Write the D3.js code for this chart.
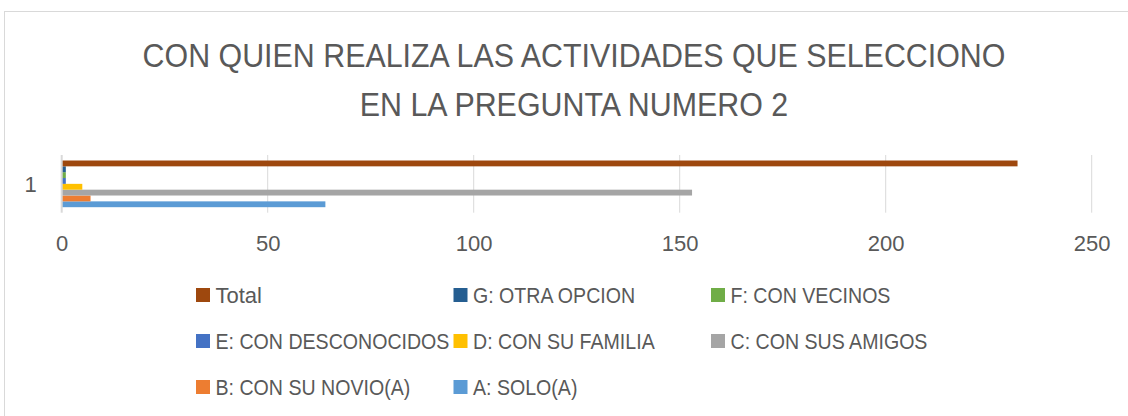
<!DOCTYPE html>
<html>
<head>
<meta charset="utf-8">
<script src="https://cdn.jsdelivr.net/npm/d3@7"></script>
<style>
  html, body { margin: 0; padding: 0; background: #ffffff; }
  svg { display: block; font-family: "Liberation Sans", Arial, sans-serif; }
</style>
</head>
<body>
<svg id="chart" width="1128" height="416"></svg>
<script>
// ---- data ----
const titleLines = ["CON QUIEN REALIZA LAS ACTIVIDADES QUE SELECCIONO", "EN LA PREGUNTA NUMERO 2"];
const categories = ["1"];
const seriesNames = ["A: SOLO(A)", "B: CON SU NOVIO(A)", "C: CON SUS AMIGOS", "D: CON SU FAMILIA",
                     "E: CON DESCONOCIDOS", "F: CON VECINOS", "G: OTRA OPCION", "Total"];
const seriesValues = [64, 7, 153, 5, 1, 1, 1, 232];
const seriesColors = ["#5B9BD5", "#ED7D31", "#A5A5A5", "#FFC000", "#4472C4", "#70AD47", "#255E91", "#9E480E"];
const xTicks = [0, 50, 100, 150, 200, 250];
const legendOrder = ["Total", "G: OTRA OPCION", "F: CON VECINOS", "E: CON DESCONOCIDOS",
                     "D: CON SU FAMILIA", "C: CON SUS AMIGOS", "B: CON SU NOVIO(A)", "A: SOLO(A)"];

// ---- layout ----
const svg = d3.select("#chart");
const textColor = "#595959";
const gridColor = "#d9d9d9";

function fitText(factor) {
  return sel => sel.each(function () {
    const t = d3.select(this);
    if (/[a-z]/.test(t.text())) return;
    const w = this.getComputedTextLength();
    t.attr("textLength", w * factor).attr("lengthAdjust", "spacingAndGlyphs");
  });
}

// chart border
svg.append("rect")
  .attr("x", 4.5).attr("y", 11.5).attr("width", 1140).attr("height", 420)
  .attr("fill", "#fff").attr("stroke", gridColor).attr("stroke-width", 1);

// title
svg.append("g").selectAll("text").data(titleLines).join("text")
  .attr("x", 574).attr("y", (d, i) => 67 + i * 49)
  .attr("text-anchor", "middle")
  .attr("font-size", 32.5)
  .attr("fill", textColor)
  .text(d => d)
  .call(fitText(0.935));

// scales
const x = d3.scaleLinear().domain([0, 250]).range([61.7, 1091.7]);
const plotTop = 155, plotBottom = 212.7;
const y0 = d3.scaleBand().domain(categories).range([plotTop, plotBottom]).paddingInner(0).paddingOuter(0.118);
const y1 = d3.scaleBand().domain(seriesNames.slice().reverse()).range([0, y0.bandwidth()]).padding(0);

// gridlines
svg.append("g").selectAll("line").data(xTicks.filter(t => t > 0)).join("line")
  .attr("x1", d => x(d)).attr("x2", d => x(d))
  .attr("y1", plotTop).attr("y2", plotBottom)
  .attr("stroke", gridColor).attr("stroke-width", 1);

// bars
const rows = categories.map(c => ({ c, vals: seriesNames.map((s, i) => ({ s, v: seriesValues[i], col: seriesColors[i] })) }));
svg.append("g").selectAll("g").data(rows).join("g")
  .attr("transform", d => `translate(0,${y0(d.c)})`)
  .selectAll("rect").data(d => d.vals).join("rect")
  .attr("x", x(0))
  .attr("y", d => y1(d.s))
  .attr("width", d => x(d.v) - x(0))
  .attr("height", y1.bandwidth())
  .attr("fill", d => d.col);

// vertical axis line
svg.append("line")
  .attr("x1", x(0)).attr("x2", x(0)).attr("y1", plotTop).attr("y2", plotBottom)
  .attr("stroke", gridColor).attr("stroke-width", 2);

// x axis labels
const xAxis = d3.axisBottom(x).tickValues(xTicks).tickSize(0).tickPadding(0);
const gx = svg.append("g").attr("transform", `translate(0,${plotBottom})`).call(xAxis);
gx.select(".domain").remove();
gx.selectAll("text")
  .attr("y", 38).attr("dy", null)
  .attr("font-size", 22).attr("font-family", "Liberation Sans, Arial, sans-serif")
  .attr("fill", textColor);

// category labels
const yAxis = d3.axisLeft(y0).tickSize(0).tickPadding(25);
const gy = svg.append("g").attr("transform", `translate(${x(0)},0)`).call(yAxis);
gy.select(".domain").remove();
gy.selectAll("text")
  .attr("font-size", 22).attr("font-family", "Liberation Sans, Arial, sans-serif")
  .attr("fill", textColor).attr("dy", "0.35em");

// legend
const colorOf = n => seriesColors[seriesNames.indexOf(n)];
const legend = svg.append("g");
const colX = [196, 453.5, 711];
const rowY = [295, 341, 387];
const items = legend.selectAll("g").data(legendOrder).join("g")
  .attr("transform", (d, i) => `translate(${colX[i % 3]},${rowY[Math.floor(i / 3)]})`);
items.append("rect")
  .attr("x", 0).attr("y", -7).attr("width", 14).attr("height", 14)
  .attr("fill", d => colorOf(d));
items.append("text")
  .attr("x", 19.5).attr("y", 8)
  .attr("font-size", 22)
  .attr("fill", textColor)
  .text(d => d)
  .call(fitText(0.89));
</script>
</body>
</html>
